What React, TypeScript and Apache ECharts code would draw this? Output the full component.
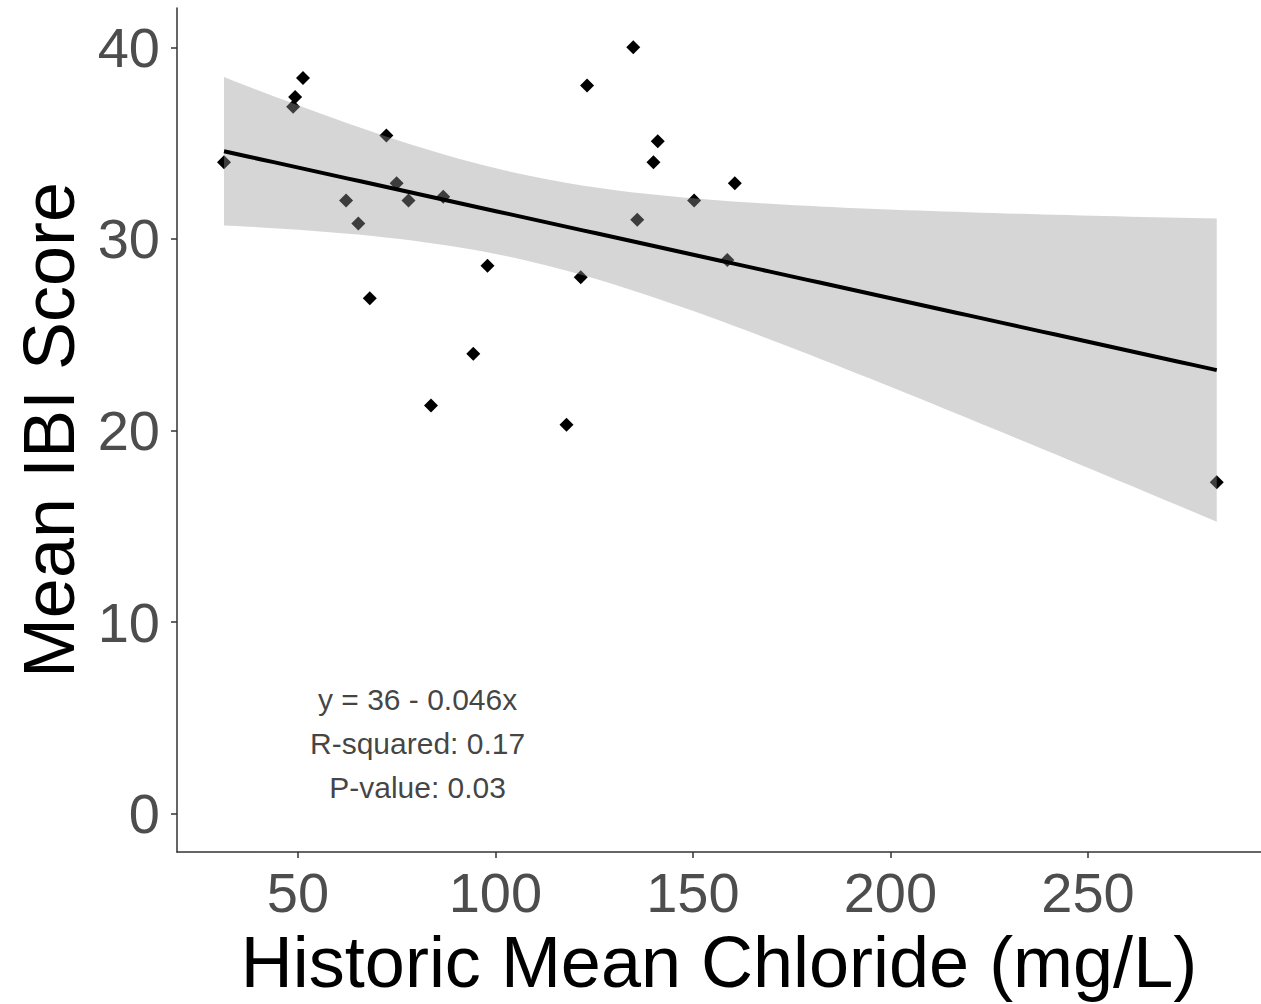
import React, { useEffect, useRef } from "react";
import * as echarts from "echarts";

// Historic mean chloride (mg/L) for each site
const chloride = [
  31.3, 51.3, 49.3, 48.8, 72.4, 62.2, 65.3, 75.0, 78.0, 86.8, 98.0, 121.6, 68.2,
  94.4, 83.7, 118.0, 134.9, 123.2, 141.1, 140.0, 160.6, 150.3, 135.9, 158.7, 282.6,
];
// Mean IBI score for each site
const ibi = [
  34.0, 38.4, 37.4, 36.9, 35.4, 32.0, 30.8, 32.9, 32.0, 32.2, 28.6, 28.0, 26.9,
  24.0, 21.3, 20.3, 40.0, 38.0, 35.1, 34.0, 32.9, 32.0, 31.0, 28.9, 17.3,
];

const xTicks = [50, 100, 150, 200, 250];
const yTicks = [0, 10, 20, 30, 40];
const annotationLines = ["y = 36 - 0.046x", "R-squared: 0.17", "P-value: 0.03"];
const annotationAt = [80.3, 3.67];
const xTitle = "Historic Mean Chloride (mg/L)";
const yTitle = "Mean IBI Score";
const T_CRIT = 2.0687; // t quantile 0.975, df = n - 2 = 23

function linearFit() {
  const n = chloride.length;
  const mx = chloride.reduce((a, b) => a + b, 0) / n;
  const my = ibi.reduce((a, b) => a + b, 0) / n;
  let sxx = 0;
  let sxy = 0;
  for (let i = 0; i < n; i++) {
    sxx += (chloride[i] - mx) ** 2;
    sxy += (chloride[i] - mx) * (ibi[i] - my);
  }
  const b1 = sxy / sxx;
  const b0 = my - b1 * mx;
  let sse = 0;
  for (let i = 0; i < n; i++) sse += (ibi[i] - (b0 + b1 * chloride[i])) ** 2;
  const s = Math.sqrt(sse / (n - 2));
  const xmin = Math.min(...chloride);
  const xmax = Math.max(...chloride);
  const steps = 80;
  const band: number[][] = [];
  const line: number[][] = [];
  for (let k = 0; k <= steps; k++) {
    const x = xmin + ((xmax - xmin) * k) / steps;
    const yhat = b0 + b1 * x;
    const se = s * Math.sqrt(1 / n + (x - mx) ** 2 / sxx);
    band.push([x, yhat - T_CRIT * se, yhat + T_CRIT * se]);
    line.push([x, yhat]);
  }
  return { band, line };
}

export default function App() {
  const ref = useRef<HTMLDivElement>(null);
  useEffect(() => {
    if (!ref.current) return;
    const chart = echarts.init(ref.current, undefined, { renderer: "svg" });
    const { band, line } = linearFit();
    const font = "'Liberation Sans', Arial, sans-serif";
    const axisLineStyle = { color: "#333333", width: 1.5 };
    chart.setOption({
      animation: false,
      backgroundColor: "#ffffff",
      grid: { left: 177, right: 0, top: 8, bottom: 152, containLabel: false, outerBoundsMode: "none" },
      xAxis: {
        type: "value",
        min: 19.4,
        max: 293.8,
        splitLine: { show: false },
        axisLine: { show: true, onZero: false, lineStyle: axisLineStyle },
        axisTick: { show: true, length: 6, lineStyle: axisLineStyle, customValues: xTicks },
        axisLabel: {
          customValues: xTicks,
          fontSize: 56,
          fontFamily: font,
          color: "#4d4d4d",
          margin: 12,
        },
        name: xTitle,
        nameLocation: "middle",
        nameGap: 74,
        nameTextStyle: { fontSize: 72, fontFamily: font, color: "#000000" },
      },
      yAxis: {
        type: "value",
        min: -2.0,
        max: 42.05,
        splitLine: { show: false },
        axisLine: { show: true, onZero: false, lineStyle: axisLineStyle },
        axisTick: { show: true, length: 6, lineStyle: axisLineStyle, customValues: yTicks },
        axisLabel: {
          customValues: yTicks,
          fontSize: 56,
          fontFamily: font,
          color: "#4d4d4d",
          margin: 17,
        },
        name: yTitle,
        nameLocation: "middle",
        nameRotate: 90,
        nameGap: 92,
        nameTextStyle: { fontSize: 72, fontFamily: font, color: "#000000" },
      },
      series: [
        {
          type: "scatter",
          z: 2,
          symbol: "diamond",
          symbolSize: 14,
          itemStyle: { color: "#000000", opacity: 1 },
          data: chloride.map((x, i) => [x, ibi[i]]),
        },
        {
          type: "custom",
          z: 3,
          silent: true,
          data: band,
          encode: { x: 0, y: [1, 2] },
          renderItem: (params: any, api: any) => {
            if (params.dataIndex !== 0) return null;
            const upper = band.map((d) => api.coord([d[0], d[2]]));
            const lower = band.map((d) => api.coord([d[0], d[1]])).reverse();
            return {
              type: "polygon",
              shape: { points: upper.concat(lower) },
              style: { fill: "rgba(153,153,153,0.4)" },
            };
          },
        },
        {
          type: "line",
          z: 4,
          showSymbol: false,
          symbol: "none",
          lineStyle: { color: "#000000", width: 4 },
          data: line,
        },
        {
          type: "scatter",
          z: 5,
          symbolSize: 0,
          silent: true,
          data: [annotationAt],
          label: {
            show: true,
            position: "inside",
            formatter: annotationLines.join("\n"),
            fontSize: 30,
            lineHeight: 44,
            fontFamily: font,
            color: "#111111",
            align: "center",
          },
        },
      ],
    });
    return () => chart.dispose();
  }, []);
  return (
    <div
      ref={ref}
      style={{ position: "absolute", left: 0, top: 0, width: 1261, height: 1004, background: "#fff" }}
    />
  );
}
